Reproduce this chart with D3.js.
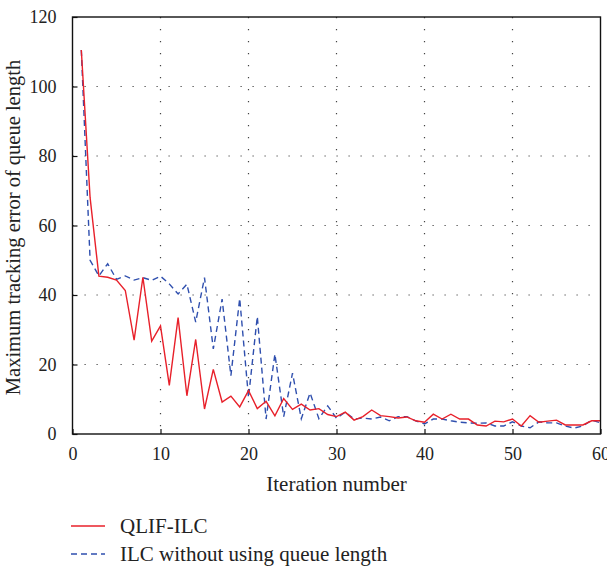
<!DOCTYPE html>
<html>
<head>
<meta charset="utf-8">
<script src="https://cdn.jsdelivr.net/npm/d3@7"></script>
<style>
    body { margin: 0; background: #fff; }
    text { font-family: "Liberation Serif", "DejaVu Serif", serif; fill: #222; }
</style>
</head>
<body>
<div id="chart"></div>
<script>
// iteration numbers on the x axis
const iterations = [1, 2, 3, 4, 5, 6, 7, 8, 9, 10, 11, 12, 13, 14, 15, 16, 17, 18, 19, 20,
    21, 22, 23, 24, 25, 26, 27, 28, 29, 30, 31, 32, 33, 34, 35, 36, 37, 38, 39, 40,
    41, 42, 43, 44, 45, 46, 47, 48, 49, 50, 51, 52, 53, 54, 55, 56, 57, 58, 59, 60];

// QLIF-ILC (red solid)
const qlifIlc = [110.5, 68, 45.4, 45.1, 44.3, 41.3, 27, 45.1, 26.7, 31.1,
    14, 33.5, 11, 27.2, 7.2, 18.6, 9.2, 10.9, 7.8, 12.5,
    7.3, 9.4, 5.2, 10.2, 7.1, 8.6, 6.9, 7.3, 5.6, 5.0,
    6.3, 4.0, 5.0, 6.9, 5.3, 5.0, 4.6, 4.9, 3.8, 3.4,
    5.7, 4.3, 5.7, 4.3, 4.3, 2.6, 2.3, 3.7, 3.5, 4.3,
    2.3, 5.3, 3.4, 3.7, 4.0, 2.6, 2.6, 2.6, 3.8, 3.8];

// ILC without using queue length (blue dashed)
const ilcNoQueue = [110.5, 50, 45.5, 49, 44.5, 45.5, 44.3, 45, 44.2, 45.4,
    43.2, 40.3, 43.1, 32.2, 45, 24.5, 38.8, 16.8, 39, 10.5,
    33.8, 4.3, 23, 5.0, 17.5, 4.4, 11.8, 4.4, 8.1, 4.5,
    6.3, 4.3, 4.6, 4.3, 4.9, 3.8, 5.0, 5.0, 3.8, 2.9,
    4.3, 4.3, 3.8, 3.4, 3.2, 3.1, 3.2, 2.3, 2.3, 3.5,
    2.3, 1.8, 3.5, 3.2, 3.2, 2.3, 1.7, 2.3, 4.0, 3.2];

const xTicks = [0, 10, 20, 30, 40, 50, 60];
const yTicks = [0, 20, 40, 60, 80, 100, 120];

const seriesNames = ["QLIF-ILC", "ILC without using queue length"];

const margin = { top: 17, right: 6.5, bottom: 135, left: 72.5 },
    width = 607 - margin.left - margin.right,
    height = 569 - margin.top - margin.bottom;

const root = d3.select("#chart")
    .append("svg")
    .attr("width", 607)
    .attr("height", 569);

const svg = root.append("g")
    .attr("transform", `translate(${margin.left},${margin.top})`);

const xScale = d3.scaleLinear().domain([0, 60]).range([0, width]);
const yScale = d3.scaleLinear().domain([0, 120]).range([height, 0]);

// dotted grid
svg.selectAll(".gx")
    .data(xTicks.slice(1, -1))
    .enter()
    .append("line")
    .attr("x1", d => xScale(d)).attr("x2", d => xScale(d))
    .attr("y1", 0).attr("y2", height)
    .attr("stroke", "#444").attr("stroke-width", 1.2)
    .attr("stroke-dasharray", "1.2,10.8");

svg.selectAll(".gy")
    .data(yTicks.slice(1, -1))
    .enter()
    .append("line")
    .attr("y1", d => yScale(d)).attr("y2", d => yScale(d))
    .attr("x1", 0).attr("x2", width)
    .attr("stroke", "#444").attr("stroke-width", 1.2)
    .attr("stroke-dasharray", "1.2,10.8");

// axes with inward ticks
const xAxis = d3.axisBottom(xScale).tickValues(xTicks).tickSizeInner(-5).tickSizeOuter(0).tickPadding(13);
const yAxis = d3.axisLeft(yScale).tickValues(yTicks).tickSizeInner(-5).tickSizeOuter(0).tickPadding(16);

const gx = svg.append("g")
    .attr("transform", `translate(0, ${height})`)
    .call(xAxis);
const gy = svg.append("g").call(yAxis);

[gx, gy].forEach(g => {
    g.select(".domain").remove();
    g.selectAll("line").attr("stroke", "#111").attr("stroke-width", 1.2);
    g.selectAll("text").attr("font-size", 18).attr("font-family", "Liberation Serif").attr("fill", "#222");
});

// lines
const line = d3.line()
    .x((d, i) => xScale(iterations[i]))
    .y(d => yScale(d));

svg.append("path")
    .datum(ilcNoQueue)
    .attr("fill", "none")
    .attr("stroke", "#2f4fae")
    .attr("stroke-width", 1.4)
    .attr("stroke-dasharray", "6,4")
    .attr("d", line);

svg.append("path")
    .datum(qlifIlc)
    .attr("fill", "none")
    .attr("stroke", "#e8202a")
    .attr("stroke-width", 1.4)
    .attr("d", line);

// frame
svg.append("rect")
    .attr("x", 0).attr("y", 0)
    .attr("width", width).attr("height", height)
    .attr("fill", "none")
    .attr("stroke", "#111")
    .attr("stroke-width", 1.4);

// axis titles
svg.append("text")
    .attr("x", width / 2)
    .attr("y", height + 57)
    .attr("text-anchor", "middle")
    .attr("font-size", 21)
    .text("Iteration number");

svg.append("text")
    .attr("transform", `translate(${-53}, ${height / 2 + 2}) rotate(-90)`)
    .attr("text-anchor", "middle")
    .attr("font-size", 20.5)
    .text("Maximum tracking error of queue length");

// legend
const legend = root.append("g").attr("transform", "translate(71, 526)");
legend.append("line").attr("x1", 0).attr("x2", 34).attr("y1", 0).attr("y2", 0)
    .attr("stroke", "#e8202a").attr("stroke-width", 1.4);
legend.append("line").attr("x1", 0).attr("x2", 34).attr("y1", 28).attr("y2", 28)
    .attr("stroke", "#2f4fae").attr("stroke-width", 1.4).attr("stroke-dasharray", "6,4");
legend.selectAll(".lt")
    .data(seriesNames)
    .enter()
    .append("text")
    .attr("x", 49)
    .attr("y", (d, i) => i * 28 + 7)
    .attr("font-size", 21)
    .text(d => d);
</script>
</body>
</html>
